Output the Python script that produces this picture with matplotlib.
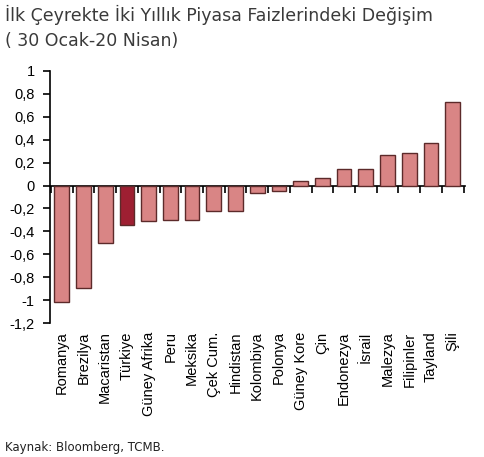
import numpy as np
import matplotlib
matplotlib.use("Agg")
import matplotlib.pyplot as plt

countries = ["Romanya", "Brezilya", "Macaristan", "Türkiye", "Güney Afrika", "Peru",
             "Meksika", "Çek Cum.", "Hindistan", "Kolombiya", "Polonya", "Güney Kore",
             "Çin", "Endonezya", "İsrail", "Malezya", "Filipinler", "Tayland", "Şili"]
changes = [-1.02, -0.89, -0.50, -0.345, -0.31, -0.30, -0.30, -0.22, -0.22, -0.065,
           -0.05, 0.035, 0.065, 0.145, 0.145, 0.265, 0.285, 0.375, 0.73]
yticks = [-1.2, -1, -0.8, -0.6, -0.4, -0.2, 0, 0.2, 0.4, 0.6, 0.8, 1]

light = "#d98585"
dark = "#9e1f32"
edge = "#5c2a2a"

fig = plt.figure(figsize=(4.84, 4.57), dpi=100)
ax = fig.add_axes([0.103, 0.293, 0.857, 0.552])

x = np.arange(len(countries))
colors = [dark if c == "Türkiye" else light for c in countries]
ax.bar(x, changes, width=0.68, color=colors, edgecolor=edge, linewidth=1.0, zorder=3)

ax.set_xlim(-0.55, len(countries) - 0.45)
ax.set_ylim(-1.2, 1)
ax.set_yticks(yticks)
ax.set_yticklabels([("%g" % v).replace(".", ",") for v in yticks],
                   fontsize=10.5, family="Liberation Sans")
ax.tick_params(axis="y", direction="out", length=5, width=1.2, pad=6)

ax.set_xticks(x)
ax.set_xticklabels(countries, rotation=90, fontsize=10.5, family="Liberation Sans")
ax.tick_params(axis="x", length=0, pad=6)

for s in ["top", "right", "bottom"]:
    ax.spines[s].set_visible(False)
ax.spines["left"].set_linewidth(1.2)

# zero line with ticks between the bars
zero = ax.secondary_xaxis(1.2 / 2.2)
zero.set_xticks(np.arange(-0.5, len(countries)))
zero.set_xticklabels([])
zero.xaxis.set_ticks_position("bottom")
zero.tick_params(axis="x", direction="out", length=5, width=1.2, top=False, bottom=True)
zero.spines["bottom"].set_linewidth(1.2)
zero.spines["top"].set_linewidth(1.2)

fig.text(0.01, 0.99, "İlk Çeyrekte İki Yıllık Piyasa Faizlerindeki Değişim\n( 30 Ocak-20 Nisan)",
         ha="left", va="top", fontsize=12.5, color="#3a3a3a", family="DejaVu Sans",
         linespacing=1.55)
fig.text(0.01, 0.006, "Kaynak: Bloomberg, TCMB.", ha="left", va="bottom",
         fontsize=8.5, color="#222222", family="DejaVu Sans")

fig.savefig("out.png", dpi=100)
